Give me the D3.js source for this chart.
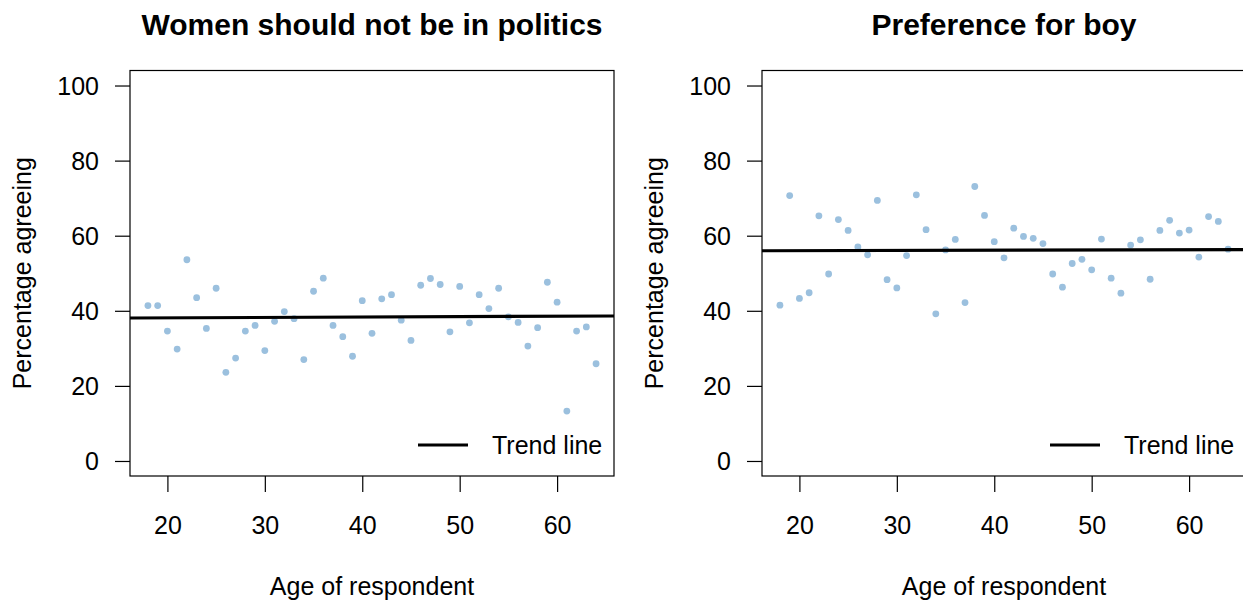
<!DOCTYPE html>
<html>
<head>
<meta charset="utf-8">
<script src="https://cdn.jsdelivr.net/npm/d3@7"></script>
<style>
  body { margin: 0; background: #fff; }
  svg { display: block; font-family: "Liberation Sans", Arial, Helvetica, sans-serif; }
</style>
</head>
<body>
<div id="chart"></div>
<script>
'use strict';

// ages 18..64, one point per age
const ages = [18, 19, 20, 21, 22, 23, 24, 25, 26, 27, 28, 29, 30, 31, 32, 33, 34, 35, 36, 37, 38, 39, 40,
  41, 42, 43, 44, 45, 46, 47, 48, 49, 50, 51, 52, 53, 54, 55, 56, 57, 58, 59, 60, 61, 62, 63, 64];

const womenPolitics = [41.4, 41.4, 34.6, 29.8, 53.6, 43.5, 35.3, 46.0, 23.6, 27.4, 34.6, 36.1, 29.4, 37.2,
  39.8, 37.9, 27.0, 45.2, 48.7, 36.1, 33.1, 27.9, 42.7, 34.0, 43.2, 44.3, 37.5, 32.1, 46.8, 48.6, 47.0,
  34.4, 46.5, 36.8, 44.3, 40.6, 46.0, 38.4, 36.9, 30.6, 35.5, 47.6, 42.3, 13.3, 34.6, 35.7, 25.9];

const preferBoy = [41.5, 70.7, 43.3, 44.8, 65.3, 49.8, 64.3, 61.4, 57.0, 54.9, 69.4, 48.3, 46.1, 54.7,
  70.9, 61.6, 39.2, 56.2, 59.0, 42.2, 73.1, 65.4, 58.4, 54.1, 62.0, 59.8, 59.3, 57.9, 49.8, 46.3, 52.6,
  53.7, 50.9, 59.1, 48.7, 44.7, 57.5, 58.9, 48.4, 61.4, 64.1, 60.7, 61.5, 54.3, 65.1, 63.8, 56.4];

// trend line values at the first and last age
const trendAges = [18, 64];
const trendWomen = [38.1, 38.6];
const trendBoy = [56.0, 56.3];

const xTicks = [20, 30, 40, 50, 60];
const yTicks = [0, 20, 40, 60, 80, 100];

const panels = [
  { title: 'Women should not be in politics', values: womenPolitics, trend: trendWomen },
  { title: 'Preference for boy', values: preferBoy, trend: trendBoy }
];

((d3) => {
  const width = 1243;
  const height = 601;
  const plotW = 484;
  const plotTop = 70.5;
  const plotBottom = 476;
  const panelStep = 632;
  const firstLeft = 130;
  const pointColor = '#9bc0de';

  const svg = d3.select('#chart')
    .append('svg')
    .attr('width', width)
    .attr('height', height);

  // R style 4% padding on both axes
  const ext = d3.extent(ages);
  const padX = (ext[1] - ext[0]) * 0.04;
  const yDomain = [0 - 100 * 0.04, 100 + 100 * 0.04];

  panels.forEach((p, i) => {
    const left = firstLeft + i * panelStep;
    const right = left + plotW;

    const x = d3.scaleLinear().domain([ext[0] - padX, ext[1] + padX]).range([left, right]);
    const y = d3.scaleLinear().domain(yDomain).range([plotBottom, plotTop]);

    const g = svg.append('g');

    //points
    g.selectAll('circle')
      .data(ages.map((a, j) => ({ age: a, v: p.values[j] })))
      .enter()
      .append('circle')
      .attr('cx', (d) => x(d.age))
      .attr('cy', (d) => y(d.v))
      .attr('r', 3.4)
      .attr('fill', pointColor);

    //trend line across whole plot
    const slope = (p.trend[1] - p.trend[0]) / (trendAges[1] - trendAges[0]);
    const dom = x.domain();
    const trendAt = (a) => p.trend[0] + slope * (a - trendAges[0]);
    g.append('line')
      .attr('x1', x(dom[0])).attr('x2', x(dom[1]))
      .attr('y1', y(trendAt(dom[0]))).attr('y2', y(trendAt(dom[1])))
      .attr('stroke', '#000')
      .attr('stroke-width', 3.2);

    //box
    g.append('rect')
      .attr('x', left).attr('y', plotTop)
      .attr('width', plotW).attr('height', plotBottom - plotTop)
      .attr('fill', 'none')
      .attr('stroke', '#000')
      .attr('stroke-width', 1.2);

    //axes
    const xAxis = d3.axisBottom(x).tickValues(xTicks).tickSize(16).tickPadding(22).tickSizeOuter(0);
    const gx = g.append('g')
      .attr('transform', 'translate(0,' + plotBottom + ')')
      .call(xAxis);
    gx.select('.domain').remove();

    const yAxis = d3.axisLeft(y).tickValues(yTicks).tickSize(15).tickPadding(16).tickSizeOuter(0);
    const gy = g.append('g')
      .attr('transform', 'translate(' + left + ',0)')
      .call(yAxis);
    gy.select('.domain').remove();

    [gx, gy].forEach((a) => {
      a.selectAll('.tick line').attr('stroke', '#000').attr('stroke-width', 1.2);
      a.selectAll('.tick text')
        .attr('fill', '#000')
        .style('font-size', '25px')
        .style('font-family', '"Liberation Sans", Arial, Helvetica, sans-serif');
    });
    gx.selectAll('.tick text').attr('dy', null).attr('y', 58 - 0);
    gy.selectAll('.tick text').attr('dy', '0.36em');

    //titles
    g.append('text')
      .attr('x', (left + right) / 2)
      .attr('y', 35)
      .attr('text-anchor', 'middle')
      .style('font-size', '30px')
      .style('font-weight', 'bold')
      .text(p.title);

    g.append('text')
      .attr('x', (left + right) / 2)
      .attr('y', 595)
      .attr('text-anchor', 'middle')
      .style('font-size', '25px')
      .text('Age of respondent');

    g.append('text')
      .attr('transform', 'translate(' + (left - 99) + ',' + ((plotTop + plotBottom) / 2) + ') rotate(-90)')
      .attr('text-anchor', 'middle')
      .style('font-size', '25px')
      .text('Percentage agreeing');

    //legend
    const legY = plotBottom - 31;
    g.append('line')
      .attr('x1', right - 196).attr('x2', right - 146)
      .attr('y1', legY).attr('y2', legY)
      .attr('stroke', '#000')
      .attr('stroke-width', 3.2);
    g.append('text')
      .attr('x', right - 122)
      .attr('y', legY + 9)
      .style('font-size', '25px')
      .text('Trend line');
  });
})(window.d3);
</script>
</body>
</html>
